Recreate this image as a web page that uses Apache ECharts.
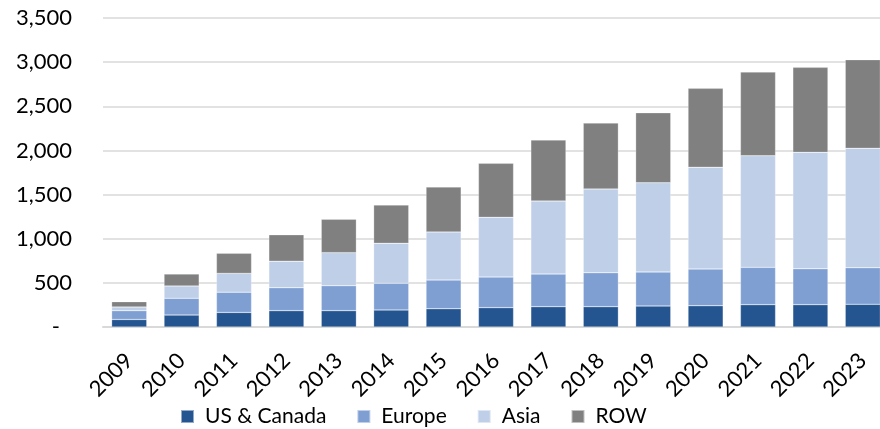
<!DOCTYPE html>
<html lang="en">
<head>
    <meta charset="UTF-8">
    <title>Capacity by Region</title>
    <script src="https://cdn.jsdelivr.net/npm/echarts@6/dist/echarts.min.js"></script>
    <style>
        html, body {
            margin: 0;
            padding: 0;
            background: #fff;
        }
        #chart {
            width: 880px;
            height: 429px;
        }
    </style>
</head>
<body>
<div id="chart"></div>
<script>
    var years = ['2009', '2010', '2011', '2012', '2013', '2014', '2015', '2016',
        '2017', '2018', '2019', '2020', '2021', '2022', '2023'];
    var usCanada = [85, 135, 165, 185, 185, 193, 207, 219, 230, 230, 238, 241, 253, 253, 257];
    var europe = [100, 190, 230, 260, 283, 302, 325, 347, 370, 385, 385, 416, 423, 407, 415];
    var asia = [42, 140, 212, 300, 374, 453, 544, 676, 827, 948, 1011, 1152, 1264, 1318, 1352];
    var row = [60, 135, 228, 300, 378, 434, 510, 612, 691, 747, 793, 894, 948, 963, 1004];

    var font = 'Lato, "Open Sans", sans-serif';

    function bar(name, data, color) {
        return {
            name: name,
            type: 'bar',
            stack: 'total',
            barCategoryGap: '33%',
            data: data,
            itemStyle: {
                color: color,
                borderColor: 'rgba(255,255,255,0.5)',
                borderWidth: 0.5
            }
        };
    }

    var chart = echarts.init(document.getElementById('chart'));
    chart.setOption({
        animation: false,
        textStyle: {fontFamily: font},
        // plot runs past the right edge, as in the source picture
        grid: {left: 103, width: 786, top: 18, height: 309, outerBoundsMode: 'none'},
        legend: {
            top: 406,
            left: 180,
            padding: 0,
            itemWidth: 13,
            itemHeight: 13,
            itemGap: 30,
            icon: 'rect',
            textStyle: {fontSize: 21, color: '#000', fontFamily: font, padding: [0, 0, 0, 6]},
            data: ['US & Canada', 'Europe', 'Asia', 'ROW']
        },
        xAxis: {
            type: 'category',
            data: years,
            axisLine: {lineStyle: {color: '#d9d9d9', width: 2}},
            axisTick: {show: false},
            axisLabel: {rotate: 45, fontSize: 22, color: '#000', margin: 30, interval: 0}
        },
        yAxis: {
            type: 'value',
            min: 0,
            max: 3500,
            interval: 500,
            axisLine: {show: false},
            axisTick: {show: false},
            splitLine: {lineStyle: {color: '#d9d9d9', width: 1.5}},
            axisLabel: {
                fontSize: 22,
                color: '#000',
                margin: 31,
                formatter: function (v) {
                    if (v === 0) {
                        return '{d|-}';
                    }
                    return v.toLocaleString('en-US');
                },
                rich: {
                    d: {fontSize: 22, color: '#000', padding: [0, 12, 0, 0]}
                }
            }
        },
        series: [
            bar('US & Canada', usCanada, '#245590'),
            bar('Europe', europe, '#7f9fd3'),
            bar('Asia', asia, '#bfcfe8'),
            bar('ROW', row, '#808080')
        ]
    });
</script>
</body>
</html>
